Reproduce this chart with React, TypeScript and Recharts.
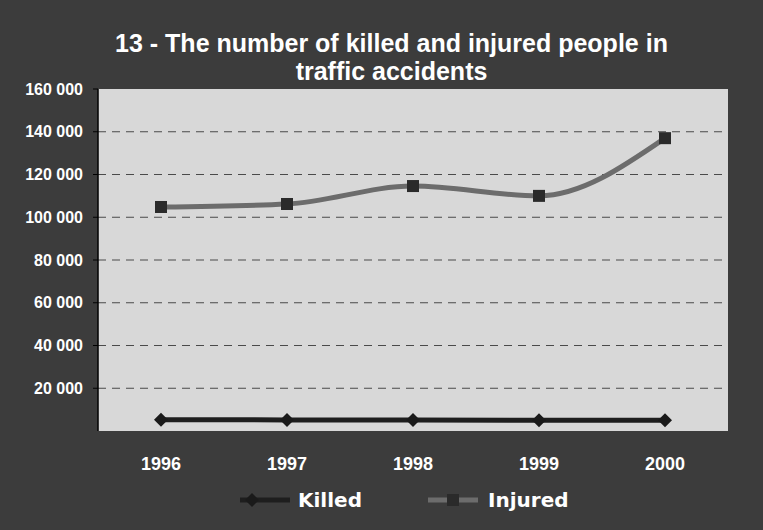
import React from 'react';
import { LineChart, Line, XAxis, YAxis, CartesianGrid } from 'recharts';

const years = ['1996', '1997', '1998', '1999', '2000'];
const killed = [5300, 5200, 5100, 5000, 5000];
const injured = [104800, 106200, 114600, 110000, 137000];
const yTicks = [20000, 40000, 60000, 80000, 100000, 120000, 140000, 160000];

const data = years.map((y, i) => ({ pos: i + 0.5, year: y, killed: killed[i], injured: injured[i] }));
const centerTicks = years.map((_, i) => i + 0.5);
const edgeTicks = [0, ...years.map((_, i) => i + 1)];

const fmt = (v: number) => String(v).replace(/\B(?=(\d{3})+(?!\d))/g, ' ');

const SquareDot = (props: any) => {
  const { cx, cy } = props;
  if (cx == null || cy == null) return null;
  return <rect x={cx - 6} y={cy - 6} width={12} height={12} fill="#2a2a2a" />;
};

const DiamondDot = (props: any) => {
  const { cx, cy } = props;
  if (cx == null || cy == null) return null;
  return <polygon points={`${cx},${cy - 7} ${cx + 7},${cy} ${cx},${cy + 7} ${cx - 7},${cy}`} fill="#1a1a1a" />;
};

const labelFont = '"DejaVu Sans", sans-serif';

export default function App() {
  return (
    <div style={{ position: 'absolute', left: 0, top: 0, width: 763, height: 530, background: '#3c3c3c', overflow: 'hidden' }}>
      <div
        style={{
          position: 'absolute', left: 10, top: 29, width: 763, textAlign: 'center',
          color: '#fff', fontFamily: '"Liberation Sans", Arial, sans-serif',
          fontWeight: 'bold', fontSize: 25, lineHeight: '28px',
        }}
      >
        13 - The number of killed and injured people in<br />traffic accidents
      </div>
      <LineChart width={763} height={530} data={data} margin={{ top: 89, right: 35, left: 0, bottom: 39 }}>
        <CartesianGrid
          vertical={false}
          fill="#d8d8d8"
          stroke="#4a4a4a"
          strokeDasharray="8 6"
          horizontalValues={yTicks.slice(0, -1)}
        />
        <XAxis
          xAxisId="frame"
          type="number"
          domain={[0, 5]}
          ticks={edgeTicks}
          allowDataOverflow
          height={0}
          tick={false}
          tickSize={5}
          axisLine={{ stroke: '#000', strokeWidth: 1.5 }}
          tickLine={{ stroke: '#000' }}
        />
        <XAxis
          dataKey="pos"
          type="number"
          domain={[0, 5]}
          ticks={centerTicks}
          tickFormatter={(v: number) => years[Math.round(v - 0.5)]}
          height={60}
          axisLine={false}
          tickLine={false}
          tickSize={0}
          tickMargin={26}
          tick={{ fill: '#fff', fontSize: 18, fontWeight: 'bold', fontFamily: '"Liberation Sans", Arial, sans-serif' }}
        />
        <YAxis
          width={98}
          domain={[0, 160000]}
          ticks={yTicks}
          interval={0}
          tickFormatter={fmt}
          tickSize={5}
          tickMargin={10}
          axisLine={{ stroke: '#000', strokeWidth: 1.5 }}
          tickLine={{ stroke: '#000' }}
          tick={{ fill: '#fff', fontSize: 16, fontWeight: 'bold', fontFamily: '"Liberation Sans", Arial, sans-serif' }}
        />
        <Line
          type="linear"
          dataKey="killed"
          stroke="#1e1e1e"
          strokeWidth={5}
          dot={<DiamondDot />}
          isAnimationActive={false}
        />
        <Line
          type="monotone"
          dataKey="injured"
          stroke="#6c6c6c"
          strokeWidth={5}
          dot={<SquareDot />}
          isAnimationActive={false}
        />
      </LineChart>
      <div
        style={{
          position: 'absolute', left: 0, top: 487, width: 763,
          color: '#fff', fontFamily: labelFont, fontWeight: 'bold', fontSize: 20,
        }}
      >
        <div style={{ position: 'absolute', left: 238, display: 'flex', alignItems: 'center' }}>
          <svg width={54} height={26}>
            <line x1={2} y1={13} x2={52} y2={13} stroke="#1e1e1e" strokeWidth={5} />
            <polygon points="14,6 21,13 14,20 7,13" fill="#1a1a1a" />
          </svg>
          <span style={{ marginLeft: 6 }}>Killed</span>
        </div>
        <div style={{ position: 'absolute', left: 426, display: 'flex', alignItems: 'center' }}>
          <svg width={54} height={26}>
            <line x1={2} y1={13} x2={52} y2={13} stroke="#6c6c6c" strokeWidth={5} />
            <rect x={21} y={7} width={12} height={12} fill="#2a2a2a" />
          </svg>
          <span style={{ marginLeft: 8 }}>Injured</span>
        </div>
      </div>
    </div>
  );
}
